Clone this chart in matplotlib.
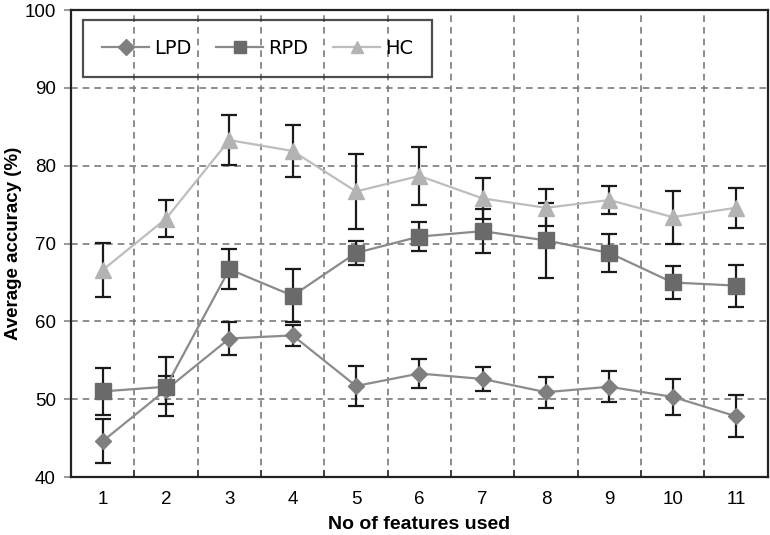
import numpy as np
import matplotlib
matplotlib.use("Agg")
import matplotlib.pyplot as plt

plt.rcParams["font.family"] = ["Liberation Sans", "DejaVu Sans"]

# ---------------------------------------------------------------------------
# Data
# ---------------------------------------------------------------------------
n_features = [1, 2, 3, 4, 5, 6, 7, 8, 9, 10, 11]

lpd_mean = [44.6, 51.2, 57.8, 58.2, 51.7, 53.3, 52.6, 50.9, 51.6, 50.3, 47.8]
lpd_err  = [2.8, 1.8, 2.1, 1.4, 2.6, 1.9, 1.5, 2.0, 2.0, 2.3, 2.7]

rpd_mean = [51.0, 51.6, 66.7, 63.3, 68.8, 70.9, 71.6, 70.4, 68.8, 65.0, 64.6]
rpd_err  = [3.0, 3.8, 2.6, 3.4, 1.5, 1.9, 2.8, 4.8, 2.4, 2.1, 2.7]

hc_mean = [66.6, 73.2, 83.3, 81.9, 76.7, 78.7, 75.8, 74.6, 75.6, 73.4, 74.6]
hc_err  = [3.5, 2.4, 3.2, 3.3, 4.8, 3.7, 2.6, 2.4, 1.8, 3.4, 2.6]

y_ticks = [40, 50, 60, 70, 80, 90, 100]

# ---------------------------------------------------------------------------
# Plot
# ---------------------------------------------------------------------------
fig = plt.figure(figsize=(7.7, 5.35), dpi=100)
ax = fig.add_axes([0.0922, 0.1084, 0.9048, 0.8726])

x = np.arange(len(n_features))

series = [
    ("LPD", lpd_mean, lpd_err, "D", 8, "#7f7f7f", "#8c8c8c"),
    ("RPD", rpd_mean, rpd_err, "s", 11, "#6a6a6a", "#8a8a8a"),
    ("HC",  hc_mean,  hc_err,  "^", 11, "#b3b3b3", "#bdbdbd"),
]

handles = []
for label, mean, err, marker, ms, mcol, lcol in series:
    ax.errorbar(x, mean, yerr=err, fmt="none", ecolor="#1a1a1a",
                elinewidth=1.6, capsize=6, capthick=1.6, zorder=3)
    h, = ax.plot(x, mean, color=lcol, lw=1.6, marker=marker, markersize=ms,
                 markerfacecolor=mcol, markeredgecolor=mcol, label=label,
                 zorder=4)
    handles.append(h)

ax.set_xlim(-0.5, len(n_features) - 0.5)
ax.set_ylim(40, 100)
ax.set_yticks(y_ticks)
ax.set_xticks(x)
ax.set_xticklabels([str(v) for v in n_features])

# grid: horizontal on value ticks, vertical between categories
ax.set_xticks(x[:-1] + 0.5, minor=True)
ax.grid(True, which="major", axis="y", ls=(0, (4, 3)), color="#7a7a7a", lw=1.2)
ax.grid(True, which="minor", axis="x", ls=(0, (4, 3)), color="#7a7a7a", lw=1.2)
ax.set_axisbelow(True)

ax.tick_params(axis="x", which="major", length=0, pad=10, labelsize=13.5)
ax.tick_params(axis="x", which="minor", length=5, color="#333333", width=1.2,
               direction="in")
ax.tick_params(axis="y", length=5, color="#888888", width=1.2, pad=6,
               labelsize=13.5)

for s in ax.spines.values():
    s.set_linewidth(1.6)
    s.set_color("#222222")

ax.set_xlabel("No of features used", fontsize=14, fontweight="bold", labelpad=6)
ax.set_ylabel("Average accuracy (%)", fontsize=13.5, fontweight="bold",
              labelpad=2)

leg = ax.legend(handles=handles, loc="upper left", ncol=3, frameon=True,
                fancybox=False, bbox_to_anchor=(0.017, 0.98),
                prop={"family": "DejaVu Sans", "size": 14},
                handlelength=2.4, columnspacing=1.3, borderpad=1.0,
                borderaxespad=0, handletextpad=0.25)
frame = leg.get_frame()
frame.set_facecolor("none")
frame.set_edgecolor("#222222")
frame.set_linewidth(1.6)
for h in leg.legend_handles:
    h.set_markersize(8)

fig.savefig("out.png", dpi=100)
